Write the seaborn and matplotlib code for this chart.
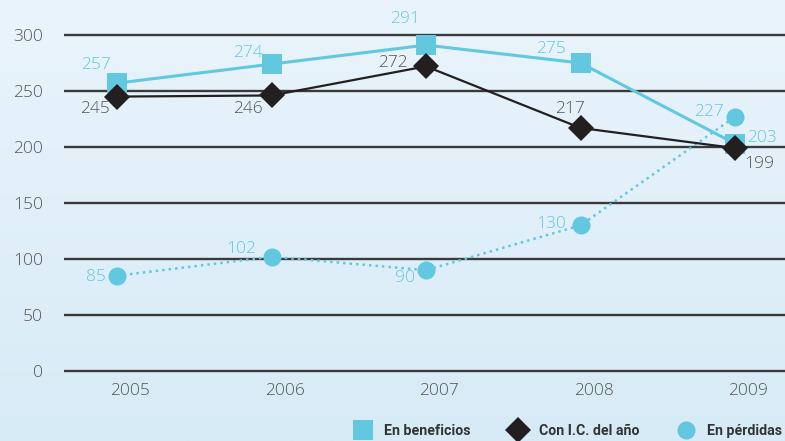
import matplotlib
matplotlib.use("Agg")
import numpy as np
import pandas as pd
import matplotlib.pyplot as plt
from matplotlib.colors import LinearSegmentedColormap
from matplotlib.lines import Line2D
from matplotlib.transforms import ScaledTranslation
import seaborn as sns

# data
years = [2005, 2006, 2007, 2008, 2009]
beneficios = [257, 274, 291, 275, 203]
con_ic = [245, 246, 272, 217, 199]
perdidas = [85, 102, 90, 130, 227]
series_names = ["En beneficios", "Con I.C. del año", "En pérdidas"]

# label offsets (pixels) relative to each point
off_benef = [(-21, 18), (-24, 11), (-21, 26), (-30, 14), (27, 6)]
off_ic = [(-22, -12), (-24, -14), (-33, 3), (-11, 19), (24, -16)]
off_perd = [(-21, -1), (-30, 8), (-21, -8), (-29, 1), (-26, 5)]

cyan = "#62c8e0"
dark = "#231f20"
grey = "#555555"

sns.set_style("white")
plt.rcParams["font.family"] = ["Open Sans", "DejaVu Sans"]
plt.rcParams["font.weight"] = "light"

df = pd.DataFrame({"year": years * 3,
                   "value": beneficios + con_ic + perdidas,
                   "serie": [s for s in series_names for _ in years]})

fig = plt.figure(figsize=(7.85, 4.41), dpi=100)

# light blue background gradient
bg = fig.add_axes([0, 0, 1, 1], zorder=0)
grad = np.linspace(0, 1, 256).reshape(-1, 1)
cmap = LinearSegmentedColormap.from_list("bg", ["#eaf4fc", "#d7ebf6"])
bg.imshow(grad, aspect="auto", cmap=cmap, extent=[0, 1, 0, 1])
bg.axis("off")

ax = fig.add_axes([64 / 785, 67.8 / 441, 721 / 785, 371.8 / 441], zorder=1)
ax.patch.set_alpha(0)

sns.lineplot(data=df[df.serie == series_names[0]], x="year", y="value", ax=ax,
             color=cyan, linewidth=2.2, marker="s", markersize=13.7,
             markeredgewidth=0, zorder=3)
sns.lineplot(data=df[df.serie == series_names[1]], x="year", y="value", ax=ax,
             color=dark, linewidth=1.6, marker="D", markersize=13.2,
             markeredgewidth=0, zorder=4)
sns.lineplot(data=df[df.serie == series_names[2]], x="year", y="value", ax=ax,
             color=cyan, linewidth=1.8, linestyle=(0, (1, 1.6)), marker="o",
             markersize=13, markeredgewidth=0, zorder=3)

for vals, offs, col in [(beneficios, off_benef, cyan), (con_ic, off_ic, grey),
                        (perdidas, off_perd, cyan)]:
    for x, v, (dx, dy) in zip(years, vals, offs):
        ax.annotate(str(v), (x, v), xytext=(dx * 0.72, dy * 0.72),
                    textcoords="offset points", ha="center", va="center",
                    color=col, fontsize=12.5, fontweight="light", zorder=5)

ax.set_xlim(2005 - 53 / 154.5, 2009 + 50 / 154.5)
ax.set_ylim(-2, 330)
ax.set_yticks(range(0, 301, 50))
ax.set_xticks(years)
ax.grid(axis="y", color="#3a3a3a", linewidth=1.7)
ax.grid(axis="x", visible=False)
ax.set_axisbelow(True)
for s in ax.spines.values():
    s.set_visible(False)
ax.set_xlabel("")
ax.set_ylabel("")
ax.tick_params(axis="y", length=0, pad=15, labelsize=12.5, labelcolor=grey)
ax.tick_params(axis="x", length=0, pad=7, labelsize=12.5, labelcolor=grey)
for lab in ax.get_xticklabels():
    lab.set_transform(lab.get_transform() + ScaledTranslation(0.13, 0, fig.dpi_scale_trans))
    lab.set_fontweight("light")
for lab in ax.get_yticklabels():
    lab.set_fontweight("light")

handles = [Line2D([], [], color=cyan, marker="s", markersize=13.7, linestyle="none", markeredgewidth=0),
           Line2D([], [], color=dark, marker="D", markersize=13.2, linestyle="none", markeredgewidth=0),
           Line2D([], [], color=cyan, marker="o", markersize=13, linestyle="none", markeredgewidth=0)]
leg = fig.legend(handles, series_names, ncol=3, loc="center right",
                 bbox_to_anchor=(1.013, 10 / 441), frameon=False,
                 handletextpad=0.5, columnspacing=2.3,
                 prop={"weight": "bold", "size": 10.2, "family": ["Roboto", "DejaVu Sans"]})
for t in leg.get_texts():
    t.set_color("#333333")

fig.savefig("out.png", dpi=100)
